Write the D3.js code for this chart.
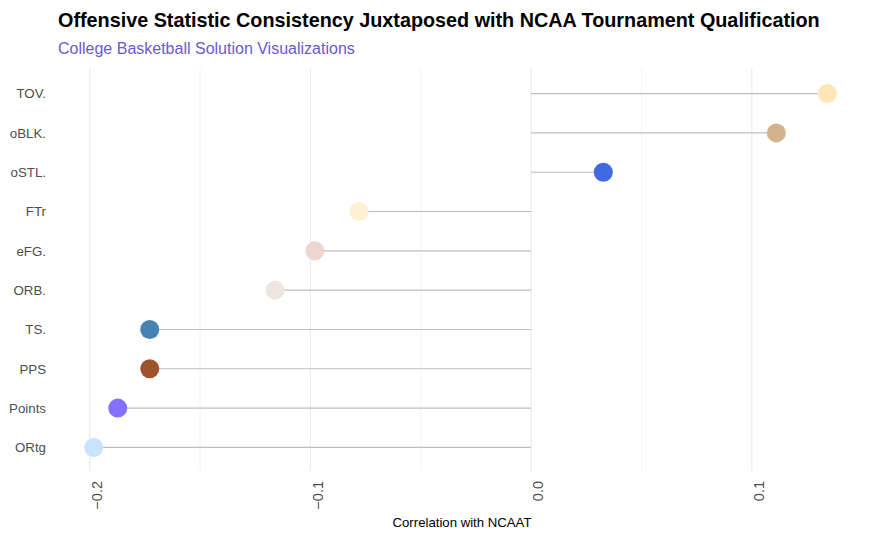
<!DOCTYPE html>
<html><head><meta charset="utf-8">
<script src="https://cdn.jsdelivr.net/npm/d3@7"></script>
<style>body{margin:0;background:#fff;font-family:"Liberation Sans",Arial,sans-serif;}</style>
</head><body>
<svg id="c" width="875" height="540"></svg>
<script>
const categories = ["TOV.","oBLK.","oSTL.","FTr","eFG.","ORB.","TS.","PPS","Points","ORtg"];
const values = [0.1342, 0.1111, 0.0327, -0.0780, -0.0980, -0.1160, -0.1728, -0.1728, -0.1873, -0.1982];
const colors = ["#FFE4B5","#D2B48C","#4169E1","#FFEFD5","#EED5D2","#EEE5DE","#4682B4","#A0522D","#8470FF","#CAE1FF"];
const xTicks = [-0.2,-0.1,0.0,0.1];
const xMinor = [-0.15,-0.05,0.05];

const svg = d3.select("#c");
const L = 57, R = 864, T = 70, B = 471;
const lo = d3.min(values), hi = d3.max(values), pad = (hi-lo)*0.05;
const x = d3.scaleLinear().domain([lo-pad, hi+pad]).range([L, R]);
const y = d3.scalePoint().domain(categories).range([T, B]).padding(0.6);

// gridlines
svg.append("g").selectAll("line").data(xMinor).join("line")
  .attr("x1", d=>x(d)).attr("x2", d=>x(d)).attr("y1", T-2).attr("y2", B)
  .attr("stroke", "#EBEBEB").attr("stroke-width", 0.6);
svg.append("g").selectAll("line").data(xTicks).join("line")
  .attr("x1", d=>x(d)).attr("x2", d=>x(d)).attr("y1", T-2).attr("y2", B)
  .attr("stroke", "#EBEBEB").attr("stroke-width", 1.2);

// segments
svg.append("g").selectAll("line").data(values).join("line")
  .attr("x1", x(0)).attr("x2", d=>x(d))
  .attr("y1", (d,i)=>y(categories[i])).attr("y2", (d,i)=>y(categories[i]))
  .attr("stroke", "#BEBEBE").attr("stroke-width", 1.1);

// dots
svg.append("g").selectAll("circle").data(values).join("circle")
  .attr("cx", d=>x(d)).attr("cy", (d,i)=>y(categories[i])).attr("r", 9.5)
  .attr("fill", (d,i)=>colors[i]);

// y axis labels
const ya = svg.append("g").attr("transform", `translate(${L-11},0)`)
  .call(d3.axisLeft(y).tickSize(0).tickPadding(0));
ya.select(".domain").remove();
ya.selectAll("text").attr("font-family","Liberation Sans, Arial, sans-serif").attr("font-size", 13.3).attr("fill", "#4D4D4D");

// x axis labels
const xa = svg.append("g").attr("transform", `translate(0,${B+10})`)
  .call(d3.axisBottom(x).tickValues(xTicks).tickFormat(d3.format(".1f")).tickSize(0));
xa.select(".domain").remove();
xa.selectAll("text").attr("font-family","Liberation Sans, Arial, sans-serif").attr("font-size", 14.5).attr("fill", "#4D4D4D")
  .attr("transform", "rotate(-90)").attr("text-anchor","end").attr("x", 0).attr("y", 0).attr("dy","0.8em");

svg.append("text").attr("x", 462).attr("y", 527).attr("text-anchor","middle")
  .attr("font-size", 13.2).attr("fill","#000").text("Correlation with NCAAT");

svg.append("text").attr("x", 58).attr("y", 27).attr("font-size", 19.8).attr("font-weight","bold")
  .attr("fill","#000").text("Offensive Statistic Consistency Juxtaposed with NCAA Tournament Qualification");
svg.append("text").attr("x", 58).attr("y", 54).attr("font-size", 16)
  .attr("fill","#6A5ACD").text("College Basketball Solution Visualizations");
</script>
</body></html>
